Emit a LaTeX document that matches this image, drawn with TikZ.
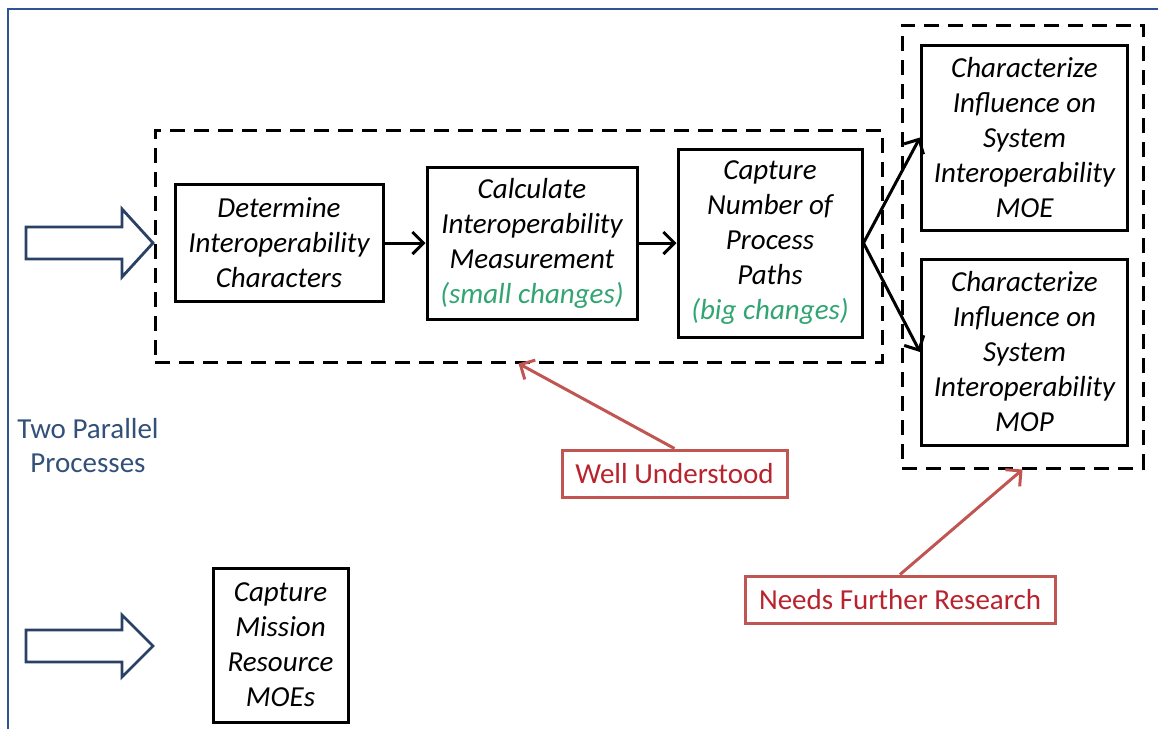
\documentclass[tikz,border=0pt]{standalone}
\usepackage{fontspec}
\setmainfont{Carlito}
\usetikzlibrary{arrows.meta, positioning}
\usepackage{xcolor}

\definecolor{frameblue}{RGB}{45,85,145}
\definecolor{arrowblue}{RGB}{40,65,100}
\definecolor{textblue}{RGB}{50,80,120}
\definecolor{notered}{RGB}{192,85,82}
\definecolor{notetext}{RGB}{185,35,45}
\definecolor{changegreen}{RGB}{50,165,115}

\begin{document}
\begin{tikzpicture}[
        x=0.5pt, y=-0.5pt,
        node distance=13pt and 20.5pt,
        % Box styles
        procbox/.style={rectangle, draw=black, line width=1.5pt, fill=white, inner sep=2pt, align=center, font=\fontsize{14.5}{17.5}\selectfont\itshape},
        groupbox/.style={rectangle, draw=black, line width=1.5pt, dash pattern=on 7.5pt off 4.5pt, inner sep=0pt},
        notebox/.style={rectangle, draw=notered, line width=1.5pt, fill=white, text=notetext, minimum height=23.5pt, inner sep=2pt, font=\fontsize{14.5}{17.5}\selectfont},
        arrow/.style={draw, line width=1.5pt, -{Straight Barb[length=5.5pt,width=11pt]}},
        notearrow/.style={draw=notered, line width=1.5pt, -{Straight Barb[length=5.5pt,width=11pt]}},
        bigarrow/.style={draw=arrowblue, line width=1.4pt, fill=white, line join=miter}
    ]
    \useasboundingbox (0,0) rectangle (1158,729);

    % --- FRAME ---
    \draw [frameblue, line width=1.3pt] (8,729) -- (8,9) -- (1158,9);

    % --- GROUPS ---
    \node (grp1) [groupbox, minimum width=363.5pt, minimum height=116pt] at (518.5,246) {};
    \node (grp2) [groupbox, minimum width=120.5pt, minimum height=221.5pt] at (1022.5,246.5) {};

    % --- UPPER PROCESS ---
    \node (det) [procbox, minimum width=104pt, minimum height=58.5pt] at (279,243) {Determine\\Interoperability\\Characters};
    \node (calc) [procbox, minimum width=105pt, minimum height=76pt, right=of det] {Calculate\\Interoperability\\Measurement\\{\color{changegreen}(small changes)}};
    \node (paths) [procbox, minimum width=92pt, minimum height=94pt, right=19pt of calc] {Capture\\Number of\\Process\\Paths\\{\color{changegreen}(big changes)}};
    \node (moe) [procbox, minimum width=103pt, minimum height=92.5pt] at (1024.5,137.5) {Characterize\\Influence on\\System\\Interoperability\\MOE};
    \node (mop) [procbox, minimum width=103pt, minimum height=93pt, below=of moe] {Characterize\\Influence on\\System\\Interoperability\\MOP};

    % --- LOWER PROCESS ---
    \node (mission) [procbox, minimum width=67.5pt, minimum height=77pt] at (280.5,645) {Capture\\Mission\\Resource\\MOEs};

    % --- LABELS ---
    \node (parallel) [text=textblue, align=center, font=\fontsize{14.5}{17}\selectfont] at (88,446) {Two Parallel\\Processes};
    \node (well) [notebox, minimum width=112.5pt] at (674.5,473.5) {Well Understood};
    \node (needs) [notebox, minimum width=155pt] at (900,599.5) {Needs Further Research};

    % --- BLOCK ARROWS ---
    \foreach \y/\h in {243/34, 646/31} {
        \draw [bigarrow] (26,\y-16) -- (122,\y-16) -- (122,\y-\h) -- (153,\y)
            -- (122,\y+\h) -- (122,\y+16) -- (26,\y+16) -- cycle;
    }

    % --- DRAWING THE CONNECTING ARROWS ---
    \draw [arrow] (det) -- (calc);
    \draw [arrow] (calc) -- (paths);
    \draw [arrow] (paths.east) -- (moe.west);
    \draw [arrow] (paths.east) -- (mop.west);

    \draw [notearrow] (well.north) -- (grp1.south);
    \draw [notearrow] (needs.north) -- (grp2.south);

\end{tikzpicture}
\end{document}
